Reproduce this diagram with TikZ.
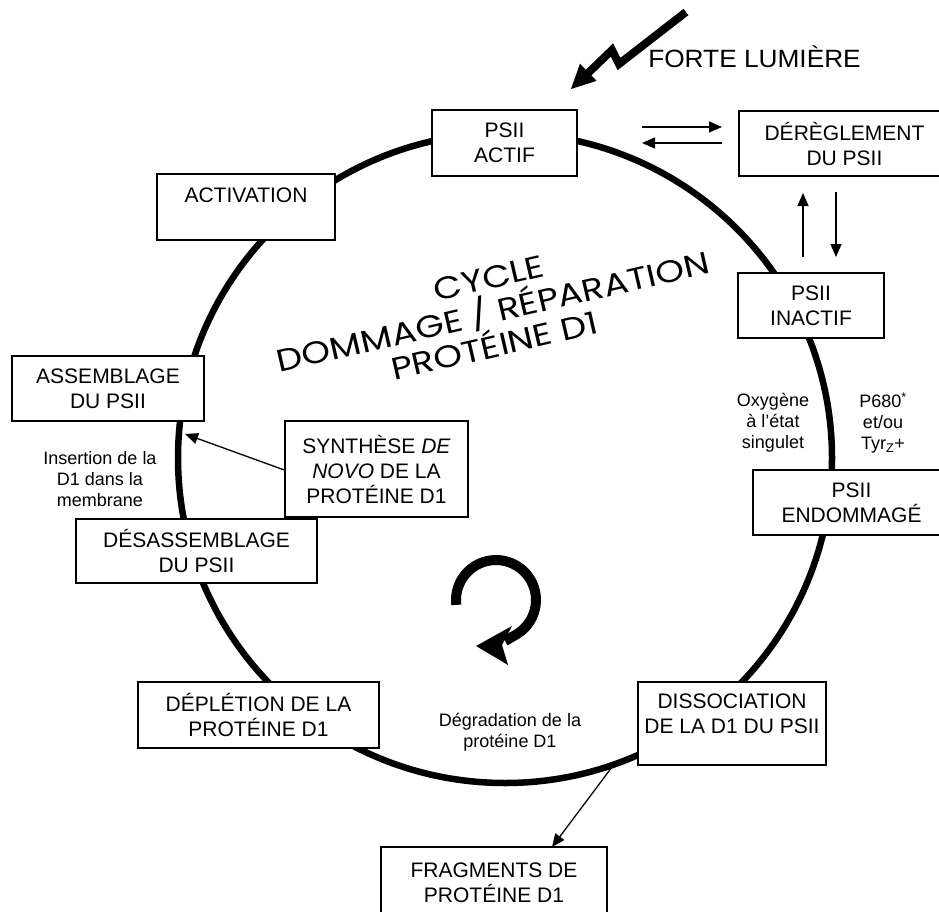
\documentclass[tikz,border=0pt]{standalone}
\usepackage{fontspec}
\setmainfont{Liberation Sans}
\newfontfamily\gothic[FakeStretch=1.18]{Poppins}
\newfontfamily\widefont[FakeStretch=1.05]{Liberation Sans}
\usetikzlibrary{arrows.meta,calc}
\begin{document}
\begin{tikzpicture}[x=1pt,y=-1pt,
  box/.style={draw, line width=1.4pt, fill=white, align=center, inner sep=0pt,
    font=\fontsize{21}{25}\selectfont},
  lbl/.style={align=center, inner sep=0pt, font=\fontsize{18}{21}\selectfont},
  arr/.style={line width=1.3pt, -{Triangle[length=13pt,width=11pt]}},
  cyc/.style={font=\gothic\fontsize{31}{33}\selectfont, rotate=13, inner sep=0pt},
  ring/.style={line width=6.5pt}]
\useasboundingbox (0,0) rectangle (939,912);
% main cycle
\draw[ring] (505,458) ellipse [x radius=327, y radius=325];
% boxes
\node[box, minimum width=145, minimum height=66] (actif) at (504.5,143) {PSII\\ACTIF};
\node[box, minimum width=211, minimum height=65] (dereg) at (844.5,143.5) {DÉRÈGLEMENT\\DU PSII};
\node[box, minimum width=146, minimum height=65] (inact) at (811,305.5) {PSII\\INACTIF};
\node[box, minimum width=197, minimum height=65] (endom) at (851.5,502.5) {PSII\\ENDOMMAGÉ};
\node[box, minimum width=188, minimum height=83, text depth=19pt] (dissoc) at (732,723.5) {DISSOCIATION\\DE LA D1 DU PSII};
\node[box, minimum width=226, minimum height=72] (frag) at (494,883) {FRAGMENTS DE\\PROTÉINE D1};
\node[box, minimum width=241, minimum height=66] (deplet) at (258.5,715) {DÉPLÉTION DE LA\\PROTÉINE D1};
\node[box, minimum width=241, minimum height=64] (desass) at (196.5,551) {DÉSASSEMBLAGE\\DU PSII};
\node[box, minimum width=183, minimum height=96] (synth) at (376.5,469) {SYNTHÈSE \textit{DE}\\\textit{NOVO} DE LA\\PROTÉINE D1};
\node[box, minimum width=192, minimum height=65] (assemb) at (108,388.5) {ASSEMBLAGE\\DU PSII};
\node[box, minimum width=178, minimum height=66, text depth=24pt] (activ) at (246,207) {ACTIVATION};
% labels
\node[lbl] (oxy) at (773,423) {Oxygène\\à l'état\\singulet};
\node[lbl] (p680) at (883,423) {P680\textsuperscript{*}\\et/ou\\Tyr\textsubscript{Z}+};
\node[lbl] (ins) at (100,479) {Insertion de la\\D1 dans la\\membrane};
\node[lbl] (degr) at (510,732) {Dégradation de la\\protéine D1};
\node[inner sep=0pt, font=\widefont\fontsize{25}{28}\selectfont] (forte) at (754.5,57) {FORTE LUMIÈRE};
% central title
\node[cyc] (c1) at (489,278) {CYCLE};
\node[cyc] (c2) at (493,311) {DOMMAGE / RÉPARATION};
\node[cyc] (c3) at (494,343) {PROTÉINE D1};
% connectors
\coordinate (ra1) at (642,127);
\coordinate (ra2) at (722,127);
\coordinate (la1) at (722,143);
\coordinate (la2) at (642,143);
\draw[arr] (ra1) -- (ra2);
\draw[arr] (la1) -- (la2);
\coordinate (up1) at (803,257);
\coordinate (up2) at (803,193);
\coordinate (dn1) at (836,192);
\coordinate (dn2) at (836,257);
\draw[arr] (up1) -- (up2);
\draw[arr] (dn1) -- (dn2);
\coordinate (insend) at (185,434);
\draw[arr] (synth.west |- 0,470) -- (insend);
\coordinate (dstart) at (615,763);
\coordinate (fragin) at (552,847);
\draw[arr] (dstart) -- (fragin);
% lightning bolt
\draw[line width=8pt, miter limit=10] (686,12) -- (619,64) -- (612,50) -- (584,77);
\fill (571,89) -- (580,63.7) -- (596.6,80.9) -- cycle;
% circular arrow
\draw[line width=10pt] (456.3,604.9) arc[start angle=173, end angle=418, radius=40] -- (505,641);
\fill (476,646) -- (512,626) -- (502,645) -- (508,665) -- cycle;
\end{tikzpicture}
\end{document}
